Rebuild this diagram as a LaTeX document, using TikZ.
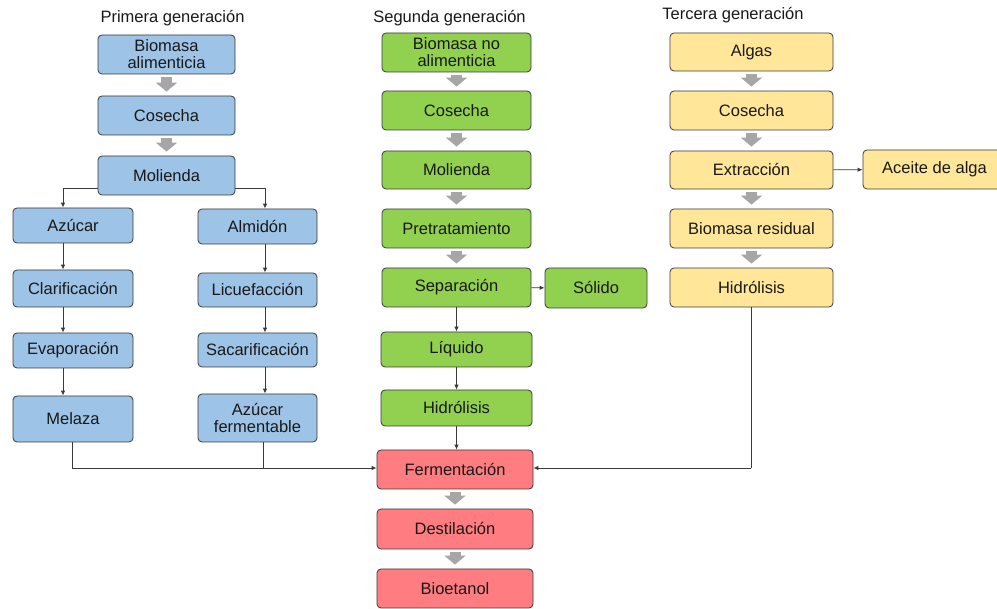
\documentclass[tikz,border=0pt]{standalone}
\usepackage{fontspec}
\setmainfont{Liberation Sans}
\usetikzlibrary{arrows.meta}
\definecolor{cblue}{HTML}{9DC3E6}
\definecolor{cgreen}{HTML}{92D050}
\definecolor{cyellow}{HTML}{FFE699}
\definecolor{cred}{HTML}{FF7C80}
\definecolor{cgray}{HTML}{A6A6A6}
\definecolor{cline}{HTML}{3A3A3A}
\tikzset{
  stepbox/.style={draw=cline, line width=0.8pt, rounded corners=4pt, inner sep=0pt,
    align=center, font=\fontsize{16.5}{17}\selectfont, text=black!90},
  bluebox/.style={stepbox, fill=cblue},
  greenbox/.style={stepbox, fill=cgreen},
  yellowbox/.style={stepbox, fill=cyellow},
  redbox/.style={stepbox, fill=cred},
  title/.style={font=\fontsize{16.5}{17}\selectfont, text=black!90},
  grayarrow/.style={draw=cgray, line width=11pt, -{Triangle[length=9pt,width=21pt]}, shorten <=3pt, shorten >=4pt},
  arr/.style={draw=cline, line width=0.9pt, -{Latex[length=5pt,width=4.5pt]}},
  ln/.style={draw=cline, line width=0.9pt},
}
\begin{document}
\begin{tikzpicture}[x=1pt,y=-1pt]
\clip (0,0) rectangle (997,609);
\fill[white] (0,0) rectangle (997,609);

% titles
\node[title] (t1) at (172.5,18) {Primera generación};
\node[title] (t2) at (449.5,18) {Segunda generación};
\node[title] (t3) at (733,15) {Tercera generación};

% helper coordinates
\coordinate (xa) at (63,188);
\coordinate (xb) at (265,188);
\coordinate (xm) at (72,468);
\coordinate (xf) at (263,468);
\coordinate (xh) at (751,468);

% Molienda split line (behind box)
\draw[ln] (xa) -- (xb);

% column 1
\node[bluebox, minimum width=137pt, minimum height=39pt] (b1) at (166.5,54.5) {Biomasa\\alimenticia};
\node[bluebox, minimum width=137pt, minimum height=39pt] (c1) at (166.5,115.5) {Cosecha};
\node[bluebox, minimum width=137pt, minimum height=39pt] (m1) at (166.5,175.5) {Molienda};
\node[bluebox, minimum width=120pt, minimum height=35pt] (az) at (73,225.5) {Azúcar};
\node[bluebox, minimum width=120pt, minimum height=37pt] (cl) at (73,288.5) {Clarificación};
\node[bluebox, minimum width=120pt, minimum height=35pt] (ev) at (73,350.5) {Evaporación};
\node[bluebox, minimum width=120pt, minimum height=46pt] (me) at (73,419) {Melaza};
\node[bluebox, minimum width=119pt, minimum height=35pt] (al) at (257.5,226.5) {Almidón};
\node[bluebox, minimum width=119pt, minimum height=34pt] (li) at (257.5,290) {Licuefacción};
\node[bluebox, minimum width=119pt, minimum height=34pt] (sa) at (257.5,350) {Sacarificación};
\node[bluebox, minimum width=119pt, minimum height=48pt] (af) at (257.5,418) {Azúcar\\fermentable};

% column 2
\node[greenbox, minimum width=149pt, minimum height=39pt] (b2) at (456.5,52.5) {Biomasa no\\alimenticia};
\node[greenbox, minimum width=149pt, minimum height=39pt] (c2) at (456.5,110.5) {Cosecha};
\node[greenbox, minimum width=149pt, minimum height=38pt] (m2) at (456.5,170) {Molienda};
\node[greenbox, minimum width=149pt, minimum height=39pt] (p2) at (456.5,228.5) {Pretratamiento};
\node[greenbox, minimum width=149pt, minimum height=39pt] (s2) at (456.5,287.5) {Separación};
\node[greenbox, minimum width=102pt, minimum height=40pt] (so) at (596,288) {Sólido};
\node[greenbox, minimum width=151pt, minimum height=35pt] (lq) at (456.5,349.5) {Líquido};
\node[greenbox, minimum width=151pt, minimum height=36pt] (h2) at (456.5,408) {Hidrólisis};
\node[redbox, minimum width=156pt, minimum height=39pt] (fe) at (455,469.5) {Fermentación};
\node[redbox, minimum width=156pt, minimum height=40pt] (de) at (455,529) {Destilación};
\node[redbox, minimum width=156pt, minimum height=39pt] (bi) at (455,588.5) {Bioetanol};

% column 3
\node[yellowbox, minimum width=163pt, minimum height=38pt] (a3) at (751.5,52) {Algas};
\node[yellowbox, minimum width=163pt, minimum height=39pt] (c3) at (751.5,110.5) {Cosecha};
\node[yellowbox, minimum width=163pt, minimum height=38pt] (e3) at (751.5,170) {Extracción};
\node[yellowbox, minimum width=163pt, minimum height=39pt] (br) at (751.5,228.5) {Biomasa residual};
\node[yellowbox, minimum width=163pt, minimum height=39pt] (h3) at (751.5,287.5) {Hidrólisis};
\node[yellowbox, minimum width=143pt, minimum height=39pt] (ac) at (934.5,169.5) {Aceite de alga};

% gray block arrows
\draw[grayarrow] (b1) -- (c1);
\draw[grayarrow] (c1) -- (m1);
\draw[grayarrow] (b2) -- (c2);
\draw[grayarrow] (c2) -- (m2);
\draw[grayarrow] (m2) -- (p2);
\draw[grayarrow] (p2) -- (s2);
\draw[grayarrow] (a3) -- (c3);
\draw[grayarrow] (c3) -- (e3);
\draw[grayarrow] (e3) -- (br);
\draw[grayarrow] (br) -- (h3);
\draw[grayarrow] (fe) -- (de);
\draw[grayarrow] (de) -- (bi);

% black connectors column 1
\draw[arr] (xa) -- (az.north -| xa);
\draw[arr] (xb) -- (al.north -| xb);
\draw[arr] (az.south -| xa) -- (cl.north -| xa);
\draw[arr] (cl.south -| xa) -- (ev.north -| xa);
\draw[arr] (ev.south -| xa) -- (me.north -| xa);
\draw[arr] (al.south -| xb) -- (li.north -| xb);
\draw[arr] (li.south -| xb) -- (sa.north -| xb);
\draw[arr] (sa.south -| xb) -- (af.north -| xb);
\draw[ln] (me.south -| xm) -- (xm);
\draw[ln] (af.south -| xf) -- (xf);
\draw[arr] (xm) -- (fe.west |- xm);

% column 2 connectors
\draw[arr] (s2) -- (so);
\draw[arr] (s2) -- (lq);
\draw[arr] (lq) -- (h2);
\draw[arr] (h2.south) -- (fe.north -| h2.south);

% column 3 connectors
\draw[arr] (e3) -- (ac);
\draw[ln] (h3.south -| xh) -- (xh);
\draw[arr] (xh) -- (fe.east |- xh);
\end{tikzpicture}
\end{document}
